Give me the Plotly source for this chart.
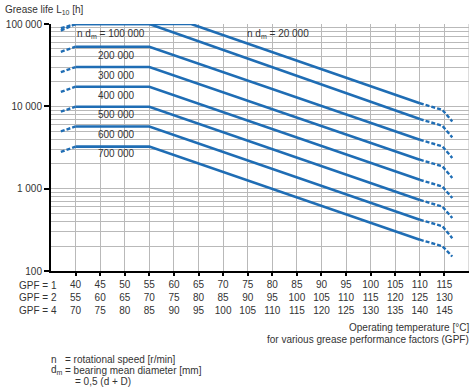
import plotly.graph_objects as go
import numpy as np

# ---------------- data ----------------
nd_values = ["20 000", "100 000", "200 000", "300 000", "400 000", "500 000", "600 000", "700 000"]
start_temp = [40, 40, 40, 40, 40, 40, 40, 40]
knee_temp = [63.5, 55, 55, 55, 55, 55, 55, 55]
flat_life = [100000, 100000, 53000, 30000, 17300, 9900, 5700, 3240]
end_temp = [110, 110, 110, 110, 110, 110, 110, 110]
end_life = [10900, 7000, 3930, 2250, 1280, 730, 420, 240]
left_dash_temp = [37, 40]
left_dash_life = [89000, 83000, 46000, 26000, 15000, 8600, 4950, 2800]
right_dash_temp = [110, 114.6, 116.6]
right_dash_mid = [9050, 5800, 3260, 1870, 1060, 605, 350, 200]
right_dash_end = [6550, 4200, 2360, 1350, 770, 440, 250, 150]

gpf1 = [40, 45, 50, 55, 60, 65, 70, 75, 80, 85, 90, 95, 100, 105, 110, 115]
gpf2 = [55, 60, 65, 70, 75, 80, 85, 90, 95, 100, 105, 110, 115, 120, 125, 130]
gpf4 = [70, 75, 80, 85, 90, 95, 100, 105, 110, 115, 120, 125, 130, 135, 140, 145]
gpf_row_labels = ["GPF = 1", "GPF = 2", "GPF = 4"]

y_tick_vals = [100, 1000, 10000, 100000]
y_tick_text = ["100", "1 000", "10 000", "100 000"]

# label positions (temperature, life)
label_pos = [(81.1, 75200), (54.45, 75200), (52.55, 41900), (52.55, 23900),
             (52.55, 13700), (52.55, 7850), (52.55, 4610), (52.55, 2640)]

# ---------------- style ----------------
BLUE = "#1f6db4"
TXT = "#333333"
FONT = "Liberation Sans, Arial, sans-serif"
FS = 10
W, H = 474, 389
ML, MR, MT, MB = 51, 5, 24, 118
PW = W - ML - MR
PH = H - MT - MB


def px_x(p):
    return (p - ML) / PW


def px_y(p):
    return (H - MB - p) / PH


fig = go.Figure()

for i in range(len(nd_values)):
    fig.add_trace(go.Scatter(
        x=[start_temp[i], knee_temp[i], end_temp[i]],
        y=[flat_life[i], flat_life[i], end_life[i]],
        mode="lines", line=dict(color=BLUE, width=2.6),
        showlegend=False, hoverinfo="skip"))
    fig.add_trace(go.Scatter(
        x=left_dash_temp, y=[left_dash_life[i], flat_life[i]],
        mode="lines", line=dict(color=BLUE, width=2.4, dash="4px,2px"),
        showlegend=False, hoverinfo="skip"))
    fig.add_trace(go.Scatter(
        x=right_dash_temp, y=[end_life[i], right_dash_mid[i], right_dash_end[i]],
        mode="lines", line=dict(color=BLUE, width=2.4, dash="4px,2px"),
        showlegend=False, hoverinfo="skip"))

annotations = []
for i, (lx, ly) in enumerate(label_pos):
    if i == 0:
        txt = "n d<sub>m</sub> = " + nd_values[i]
        anchor = "center"
    elif i == 1:
        txt = "n d<sub>m</sub> = " + nd_values[i]
        anchor = "right"
    else:
        txt = nd_values[i]
        anchor = "right"
    annotations.append(dict(x=lx, y=np.log10(ly), xref="x", yref="y", text=txt,
                            showarrow=False, xanchor=anchor, yanchor="middle",
                            font=dict(size=FS, color=TXT, family=FONT)))

annotations.append(dict(x=px_x(3), y=px_y(10), xref="paper", yref="paper",
                        text="Grease life L<sub>10</sub> [h]", showarrow=False,
                        xanchor="left", yanchor="middle",
                        font=dict(size=FS, color=TXT, family=FONT)))

for r, lab in enumerate(gpf_row_labels):
    annotations.append(dict(x=px_x(17), y=px_y(285 + 12.6 * r), xref="paper", yref="paper",
                            text=lab, showarrow=False, xanchor="left", yanchor="middle",
                            font=dict(size=FS, color=TXT, family=FONT)))

annotations.append(dict(x=px_x(471), y=px_y(327), xref="paper", yref="paper",
                        text="Operating temperature [°C]", showarrow=False,
                        xanchor="right", yanchor="middle",
                        font=dict(size=FS, color=TXT, family=FONT)))
annotations.append(dict(x=px_x(471), y=px_y(339), xref="paper", yref="paper",
                        text="for various grease performance factors (GPF)", showarrow=False,
                        xanchor="right", yanchor="middle",
                        font=dict(size=FS, color=TXT, family=FONT)))
for txt, x0, y0 in [("n", 49, 359), ("= rotational speed [r/min]", 63, 359),
                    ("d<sub>m</sub>", 49, 370), ("= bearing mean diameter [mm]", 63, 370),
                    ("= 0,5 (d + D)", 73, 381)]:
    annotations.append(dict(x=px_x(x0), y=px_y(y0), xref="paper", yref="paper",
                            text=txt, showarrow=False, xanchor="left", yanchor="middle",
                            font=dict(size=FS, color=TXT, family=FONT)))

x_tick_text = [f"{a}<br>{b}<br>{c}" for a, b, c in zip(gpf1, gpf2, gpf4)]

GRID = "#b9b9b9"
fig.update_layout(
    width=W, height=H,
    margin=dict(l=ML, r=MR, t=MT, b=MB, pad=0),
    paper_bgcolor="white", plot_bgcolor="white",
    font=dict(family=FONT, size=FS, color=TXT),
    showlegend=False,
    annotations=annotations,
    xaxis=dict(range=[35, 120], tickvals=gpf1, ticktext=x_tick_text,
               showgrid=True, gridcolor=GRID, gridwidth=1,
               showline=True, linecolor="black", linewidth=2,
               ticks="outside", ticklen=3, tickcolor="black", tickwidth=1.5,
               zeroline=False, tickangle=0, fixedrange=True, automargin=False),
    yaxis=dict(type="log", range=[2, 5], tickvals=y_tick_vals, ticktext=y_tick_text,
               showgrid=True, gridcolor=GRID, gridwidth=1,
               minor=dict(dtick="D1", showgrid=True, gridcolor=GRID, gridwidth=1, ticks=""),
               showline=True, linecolor="black", linewidth=2,
               ticks="outside", ticklen=5, tickcolor="black", tickwidth=1.5,
               zeroline=False, fixedrange=True, automargin=False),
    shapes=[dict(type="line", xref="x", yref="paper", x0=120, x1=120, y0=0, y1=1,
                 line=dict(color=GRID, width=1), layer="below")],
)

fig.write_html("out.html", config={"displayModeBar": False},
               post_script="document.body.style.margin='0';document.body.style.overflow='hidden';")
